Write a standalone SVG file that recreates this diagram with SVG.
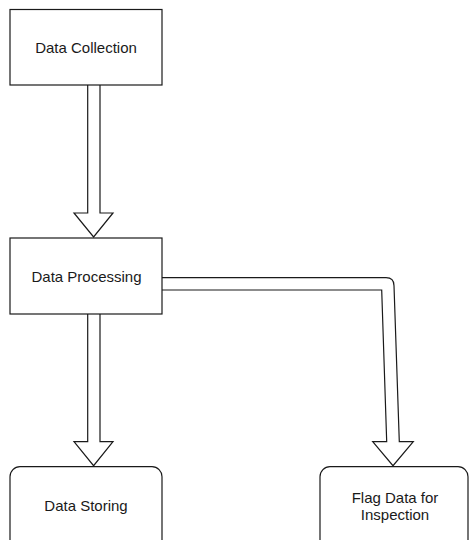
<svg xmlns="http://www.w3.org/2000/svg" width="469" height="540" viewBox="0 0 469 540">
  <style>
    .box { fill: #ffffff; stroke: #1a1a1a; stroke-width: 1.2; }
    .flow { fill: #ffffff; stroke: #1a1a1a; stroke-width: 1.2; stroke-linejoin: miter; }
    .label { font-family: "Liberation Sans", Arial, sans-serif; font-size: 15px; fill: #1a1a1a; text-anchor: middle; }
  </style>
  <rect width="469" height="540" fill="#ffffff"/>

  <!-- block arrows between steps -->
  <g id="connectors">
    <path class="flow" d="M87.7,85 V213 H74 L93.6,237 L113,213 H100 V85"/>
    <path class="flow" d="M87.7,314 V441.7 H74 L93.6,465.7 L113,441.7 H100 V314"/>
    <path class="flow" d="M162,277.7 H386 Q394,277.7 394,285.7 L399.3,441.7 H413.3 L393,465.7 L372.7,441.7 H386.7 L381.7,290 H162"/>
  </g>

  <g id="data-collection">
    <rect class="box" x="10" y="9.5" width="152" height="75.5"/>
    <text class="label" x="86" y="53">Data Collection</text>
  </g>

  <g id="data-processing">
    <rect class="box" x="10" y="238" width="152" height="76"/>
    <text class="label" x="86.5" y="282">Data Processing</text>
  </g>

  <g id="data-storing">
    <rect class="box" x="10" y="466.7" width="152" height="90" rx="10" ry="10"/>
    <text class="label" x="86" y="511">Data Storing</text>
  </g>

  <g id="flag-data">
    <rect class="box" x="320" y="466.7" width="148" height="90" rx="10" ry="10"/>
    <text class="label" x="395" y="503">Flag Data for</text>
    <text class="label" x="395" y="519.5">Inspection</text>
  </g>
</svg>
